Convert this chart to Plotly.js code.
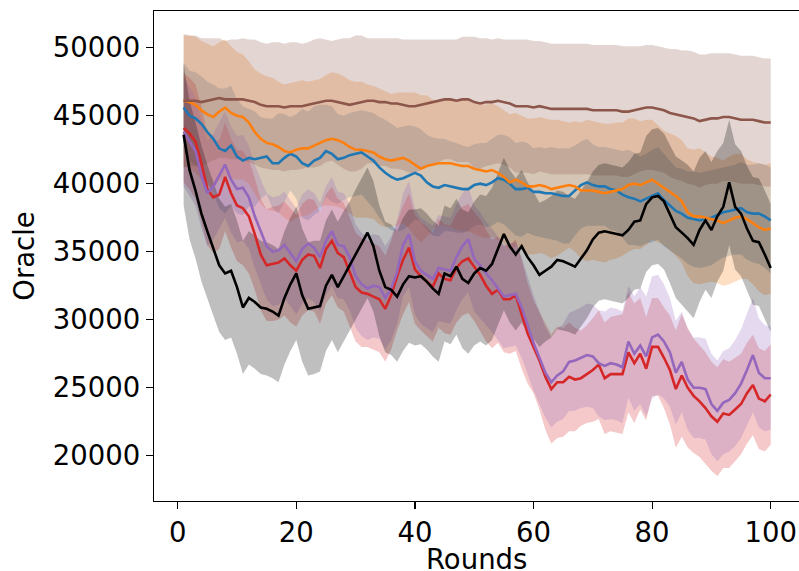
<!DOCTYPE html>
<html>
<head>
<meta charset="utf-8">
<script src="https://cdn.plot.ly/plotly-3.0.1.min.js"></script>
<style>html,body{margin:0;padding:0;background:#fff;}#chart{width:799px;height:571px;}</style>
</head>
<body>
<div id="chart"></div>
<script>
const rounds = [1,2,3,4,5,6,7,8,9,10,11,12,13,14,15,16,17,18,19,20,21,22,23,24,25,26,27,28,29,30,31,32,33,34,35,36,37,38,39,40,41,42,43,44,45,46,47,48,49,50,51,52,53,54,55,56,57,58,59,60,61,62,63,64,65,66,67,68,69,70,71,72,73,74,75,76,77,78,79,80,81,82,83,84,85,86,87,88,89,90,91,92,93,94,95,96,97,98,99,100];

const blueMean = [45600,45000,44800,44400,43800,43300,42600,42400,42800,42000,41700,41900,41800,41900,42000,41500,41500,41900,42200,42000,41500,41300,41700,41900,42400,42200,41800,41900,42100,42200,42300,42000,41700,41200,40800,40500,40300,40400,40600,40800,40600,40100,39800,39700,39900,39800,39700,39600,39600,39900,40000,39900,40100,40400,40300,40000,39600,39600,39700,39400,39400,39300,39300,39200,39100,39100,39500,39900,40100,39900,39800,39800,39600,39500,39200,39000,38900,38700,38900,39100,39300,38800,38400,38000,37800,37500,37400,37300,37400,37500,37700,37900,38000,38100,38200,37900,37800,37800,37600,37300];
const blueStd = [3300,3300,3400,3500,3700,4000,4400,4600,4400,4200,4000,3600,3500,3000,2800,3300,3700,3200,2700,3100,4000,4000,4000,3900,3400,3500,3300,3100,3100,3100,3100,3300,3500,3700,3900,3900,3800,3800,3700,3400,3400,3500,3600,3600,3400,3300,3300,3200,3100,3000,3000,3100,3200,3200,3300,3400,3400,3500,3300,3200,3300,3300,3400,3400,3500,3500,3300,3200,3200,3000,2900,2900,3000,3000,3200,3500,3400,3300,3300,3400,3400,3400,3300,3200,3300,3400,3500,3500,3500,3500,3400,3300,3300,3300,3400,3500,3600,3700,3800,3900];

const orangeMean = [46100,46000,45800,45400,45100,44900,45300,45600,45200,45000,44900,44500,43800,43300,43000,42900,42700,42400,42300,42500,42600,42600,42800,43000,43200,43300,43200,43000,42700,42500,42500,42400,42300,42000,41800,41700,41800,41900,41700,41400,41100,41300,41400,41500,41500,41500,41400,41300,41300,41100,41000,40900,41000,40800,40500,40100,40300,40100,39800,39800,39900,39800,39600,39700,39800,39900,39800,39500,39500,39500,39400,39300,39400,39500,39600,39900,40000,39900,40100,40300,40000,39700,39400,39100,38700,37900,37600,37600,37500,37400,37300,37100,37300,37500,37600,37400,37100,36800,36600,36700];
const orangeStd = [4800,4900,5000,5100,5200,5200,5100,5000,4900,4700,4600,4500,4600,4800,4900,4900,4800,4900,5100,5000,5000,4900,4800,4700,4800,4900,4900,4900,4900,5000,5000,4900,4900,5000,5000,4900,4900,4800,5000,5300,5400,5200,4800,4500,4600,4700,4800,4800,4800,4800,4900,4900,4900,4900,4900,5000,4900,4900,5000,5000,5000,5000,5100,5000,4800,4600,4800,5000,5200,5100,5100,5100,5000,5000,4900,4900,4800,4700,4600,4400,4300,4200,4300,4400,4500,4700,4900,5000,4800,4600,4600,4600,4700,4700,4600,4400,4500,4700,4800,4800];

const redMean = [44100,43700,43100,41500,39600,39000,39200,40500,39300,38400,38200,37600,36300,34800,34000,34100,34200,34500,34000,33600,34400,34800,34700,33800,35200,35800,34900,34600,33500,32400,32000,31900,31700,31500,30800,31800,33200,34400,35300,33700,33200,32800,32400,33400,33000,32900,33800,34300,34500,33900,33300,32500,31900,32200,31500,31500,31800,30400,29000,28000,27000,25800,24900,25400,25400,25800,25600,25700,26000,26300,26700,25700,26000,26000,26000,27600,26800,27500,26400,28000,28000,27200,26300,24900,25900,25000,24400,24000,23500,22900,22500,23100,23000,23400,23800,24600,25200,24200,24000,24500];
const redStd = [4000,4100,4200,4200,4100,4100,4000,4000,4000,4100,4200,4200,4100,4100,4100,4200,4200,4200,4200,4100,4100,4100,4100,4100,4000,4000,4000,4000,4000,4000,4000,3900,3900,3900,3900,4000,4000,4000,4000,4000,4000,4000,4000,4000,4000,4000,4000,4000,4000,4000,4100,4100,4000,3900,3900,4000,4100,4000,3700,3400,3600,3900,4000,4100,4000,4000,3800,3500,3600,3800,4000,4100,4200,4300,4400,4400,4400,4100,3800,3600,3600,3700,4000,4300,4500,4400,4200,4100,4100,4000,4000,4000,3900,3800,3700,3700,3700,3700,3700,3700];

const purpleMean = [43800,43100,42400,40600,39300,39800,40600,41400,40300,39600,39700,39000,37600,36500,35400,35000,35100,35500,34900,34300,35200,35600,35300,34600,35800,36500,35500,35400,34600,33200,32600,32300,32500,32400,31600,32300,33500,35500,36300,34300,33600,33300,33000,33800,33700,33600,34600,35400,35900,34500,34000,33400,32900,32300,31700,31800,31900,30900,29600,28300,27200,26100,25400,25900,26200,26900,27000,27200,27400,27300,26800,26600,26800,26700,26500,28400,27500,28100,27300,28700,28900,28400,27600,26100,26900,25600,25000,25000,24900,23800,23300,23900,24100,24600,25300,26300,27400,26100,25700,25700];
const purpleStd = [4000,4000,4000,3900,3900,3900,3900,3900,3900,3900,3900,3800,3800,3900,3900,4000,4000,3900,3900,3900,4000,4000,4000,4000,4000,4000,3900,3900,3900,3800,3800,3800,3800,3800,3800,3800,3800,3800,3900,3900,3900,3900,3900,3900,3900,3900,3900,3900,3900,3900,3900,3800,3800,3800,3800,3800,3800,3700,3600,3500,3400,3300,3300,3400,3500,3600,3700,3700,3800,3800,3900,4000,4100,4100,4100,4100,4200,4300,4400,4500,4400,4200,4000,3800,3700,3700,3700,3700,3700,3700,3700,3800,3800,3900,4000,4100,4200,4000,3900,3800];

const brownMean = [46100,46100,46100,46000,46100,46200,46300,46200,46200,46200,46200,46100,46000,45800,45700,45700,45700,45600,45700,45700,45700,45800,45900,46000,46100,46100,46000,45900,45800,45900,46000,46100,46100,46000,46000,45900,45900,45800,45700,45700,45800,45900,46000,46100,46200,46200,46100,46200,46200,46000,45900,46000,46000,46100,46000,45900,45700,45700,45700,45600,45700,45600,45500,45500,45500,45500,45500,45500,45500,45400,45400,45400,45400,45400,45300,45300,45400,45500,45600,45600,45500,45400,45200,45100,45000,44900,44800,44600,44700,44800,44800,44900,44900,44800,44700,44700,44700,44600,44500,44500];
const brownStd = [4900,4800,4800,4700,4600,4500,4400,4300,4400,4400,4500,4500,4600,4600,4600,4700,4700,4700,4700,4700,4600,4600,4700,4700,4500,4400,4600,4800,4900,5000,4900,4600,4600,4700,4700,4800,4800,4800,4900,4900,4800,4700,4600,4500,4400,4400,4500,4600,4600,4800,4800,4700,4600,4600,4600,4700,4900,4900,4900,4900,4800,4800,4800,4800,4800,4800,4800,4800,4800,4800,4800,4800,4800,4800,4800,4800,4700,4600,4600,4600,4600,4600,4700,4800,4800,4900,4900,4900,4800,4800,4800,4700,4700,4700,4700,4700,4700,4700,4700,4700];

const blackMean = [43600,41000,39500,37800,36500,35200,34000,33400,33600,32400,30900,31600,31300,30900,30800,30600,30300,31600,32600,33400,31800,30800,30900,31000,32500,33300,32400,33200,33900,34800,35600,36400,35400,33600,32400,32200,31700,32600,33200,33100,33200,32800,32300,31900,33400,33200,33900,33000,32700,33400,33800,33600,34100,35200,36300,35400,34800,35400,34600,34000,33300,33600,33900,34400,34300,34100,33900,34500,35100,35900,36400,36500,36400,36300,36200,36600,37200,37300,38500,39000,39100,38700,37800,36800,36400,36000,35500,36600,37300,36600,37600,38300,40100,38300,37800,36700,35800,35700,34800,33800];
const blackStd = [5200,5100,5000,5000,4900,4900,4900,4900,4900,4900,4900,4900,4900,4900,4900,4900,4900,4900,4900,4900,4900,4900,4900,4800,4800,4800,4800,4800,4800,4800,4800,4800,4800,4800,4800,4800,4800,4900,4900,5000,5000,5000,5000,5000,5000,5000,5000,5100,5200,5300,5400,5500,5600,5600,5600,5600,5600,5600,5500,5400,5300,5200,5200,5100,5100,5000,5000,5000,5000,5000,5000,5000,5000,5000,5000,5000,5000,5000,5000,5000,5000,5000,5100,5200,5300,5400,5400,5300,5100,5000,4800,4700,4600,4600,4600,4600,4700,4700,4700,4700];

const xTicks = [0,20,40,60,80,100];
const yTicks = [20000,25000,30000,35000,40000,45000,50000];
const xTitle = 'Rounds';
const yTitle = 'Oracle';

const series = [
  {mean: blueMean, sd: blueStd, rgb: '31,119,180'},
  {mean: orangeMean, sd: orangeStd, rgb: '255,127,14'},
  {mean: redMean, sd: redStd, rgb: '214,39,40'},
  {mean: purpleMean, sd: purpleStd, rgb: '148,103,189'},
  {mean: brownMean, sd: brownStd, rgb: '140,86,75'},
  {mean: blackMean, sd: blackStd, rgb: '0,0,0'}
];

const traces = [];
series.forEach(s => {
  const upper = s.mean.map((m, i) => m + s.sd[i]);
  const lower = s.mean.map((m, i) => m - s.sd[i]);
  traces.push({
    x: rounds.concat(rounds.slice().reverse()),
    y: upper.concat(lower.slice().reverse()),
    type: 'scatter', mode: 'lines', fill: 'toself',
    fillcolor: 'rgba(' + s.rgb + ',0.25)',
    line: {width: 0, color: 'rgba(0,0,0,0)'},
    hoverinfo: 'skip', showlegend: false
  });
});
series.forEach(s => {
  traces.push({
    x: rounds, y: s.mean, type: 'scatter', mode: 'lines',
    line: {color: 'rgb(' + s.rgb + ')', width: 2.6},
    showlegend: false
  });
});

const font = {family: 'DejaVu Sans, sans-serif', size: 27.5, color: '#000'};
const layout = {
  width: 799, height: 571,
  margin: {l: 154, r: 0, t: 11, b: 70, pad: 0},
  paper_bgcolor: '#fff', plot_bgcolor: '#fff',
  font: font,
  showlegend: false,
  xaxis: {
    range: [-3.997, 104.77], tickvals: xTicks, ticktext: xTicks.map(String),
    ticks: 'outside', ticklen: 7, tickwidth: 1.2, tickcolor: '#000',
    showline: true, linecolor: '#000', linewidth: 1.3, mirror: true,
    showgrid: false, zeroline: false,
    tickfont: font
  },
  yaxis: {
    range: [16669, 52699], tickvals: yTicks, ticktext: yTicks.map(String),
    ticks: 'outside', ticklen: 7, tickwidth: 1.2, tickcolor: '#000',
    showline: true, linecolor: '#000', linewidth: 1.3,
    showgrid: false, zeroline: false,
    tickfont: font,
    title: {text: yTitle, font: font, standoff: 10}
  },
  annotations: [{
    text: xTitle, xref: 'paper', yref: 'paper', x: 0.5, y: -0.118,
    xanchor: 'center', yanchor: 'middle', showarrow: false, font: font
  }]
};

Plotly.newPlot('chart', traces, layout, {staticPlot: true, displayModeBar: false});
</script>
</body>
</html>
